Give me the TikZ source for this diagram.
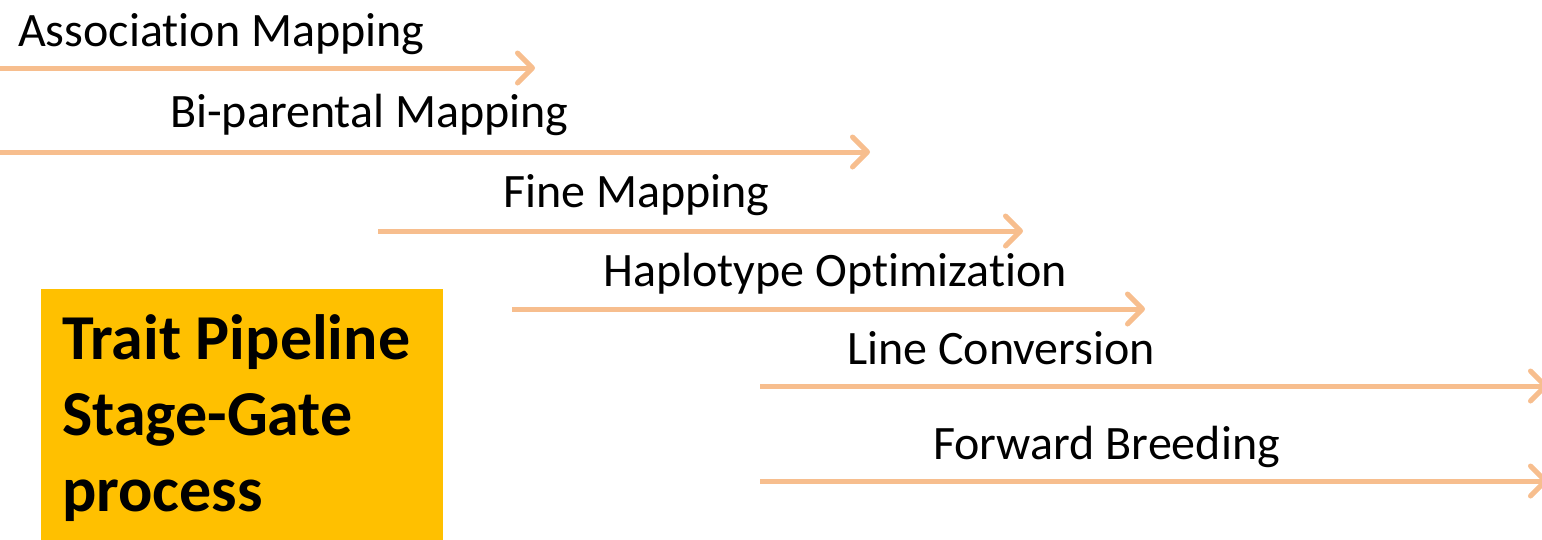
\documentclass[tikz,border=0pt]{standalone}
\usepackage{fontspec}
\setmainfont{Carlito}[Ligatures=NoCommon]
\usetikzlibrary{arrows.meta}
\definecolor{arrowc}{RGB}{247,190,142}
\definecolor{gold}{RGB}{255,192,0}
\tikzset{
  lbl/.style={anchor=base west, inner sep=0pt, font=\fontsize{48}{58}\selectfont},
  stagearrow/.style={draw=arrowc, line width=5pt, -{Straight Barb[round, length=15pt, width=30pt]}},
}
\begin{document}
\begin{tikzpicture}[x=1pt, y=-1pt]
\useasboundingbox (0,0) rectangle (1542,539);
\fill[gold] (41,289) rectangle (443,545);
\node[anchor=base west, inner sep=0pt, align=left, font=\fontsize{64}{76}\selectfont\bfseries] (title) at (62,511) {Trait Pipeline\\Stage-Gate\\process};

\node[lbl] (t1) at (18,46) {Association Mapping};
\node[lbl] (t2) at (170,127) {Bi-parental Mapping};
\node[lbl] (t3) at (503,207) {Fine Mapping};
\node[lbl] (t4) at (603,286) {Haplotype Optimization};
\node[lbl] (t5) at (847,364) {Line Conversion};
\node[lbl] (t6) at (933,459) {Forward Breeding};

\coordinate (a1s) at (-5,68);  \coordinate (a1e) at (535,68);
\coordinate (a2s) at (-5,152); \coordinate (a2e) at (870,152);
\coordinate (a3s) at (378,231); \coordinate (a3e) at (1023,231);
\coordinate (a4s) at (512,309); \coordinate (a4e) at (1145,309);
\coordinate (a5s) at (760,386); \coordinate (a5e) at (1548,386);
\coordinate (a6s) at (760,481); \coordinate (a6e) at (1548,481);

\draw[stagearrow] (a1s) -- (a1e);
\draw[stagearrow] (a2s) -- (a2e);
\draw[stagearrow] (a3s) -- (a3e);
\draw[stagearrow] (a4s) -- (a4e);
\draw[stagearrow] (a5s) -- (a5e);
\draw[stagearrow] (a6s) -- (a6e);
\end{tikzpicture}
\end{document}
